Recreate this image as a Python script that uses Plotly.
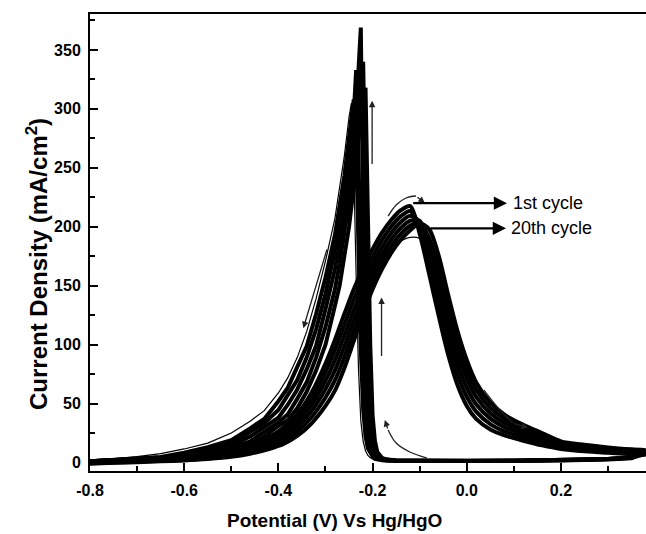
import plotly.graph_objects as go

# ---------------- data ----------------
# forward (anodic) sweep potentials, V vs Hg/HgO
E_fwd = [-0.80, -0.75, -0.70, -0.65, -0.60, -0.55, -0.50,
         -0.46, -0.42, -0.39, -0.36, -0.33, -0.30,
         -0.28, -0.26, -0.24, -0.22, -0.20, -0.18, -0.16, -0.14, -0.12, -0.10,
         -0.08, -0.06, -0.04, -0.02, 0.00, 0.02,
         0.05, 0.08, 0.12, 0.16, 0.20, 0.25, 0.30, 0.35, 0.38]
# reverse (cathodic) sweep potentials
E_rev = [0.38, 0.35, 0.30, 0.25, 0.20, 0.10, 0.00, -0.10,
         -0.15, -0.17, -0.18,
         -0.19, -0.195, -0.20, -0.205, -0.21, -0.215, -0.22, -0.225, -0.23, -0.235, -0.24, -0.245, -0.25,
         -0.26, -0.27, -0.28,
         -0.30, -0.32, -0.34, -0.36, -0.38, -0.40,
         -0.43, -0.46, -0.50, -0.55, -0.60, -0.65, -0.70, -0.75, -0.80]

# current density (mA/cm2), forward sweeps of the 20-cycle band (left/high -> right/low)
fwd_a = [0.5, 1.2, 2, 2.8, 3.8, 6, 10, 14.5, 21.5, 29.5, 41, 59, 84,
         104, 126, 147, 165, 181, 195, 206, 214, 217.5, 194,
         160, 125, 92, 66, 48, 37, 28, 23, 18.5, 14.5, 11.5, 9.5, 8.2, 7.1, 6.5]
fwd_b = [0.2, 0.9, 1.7, 2.4, 3.4, 5.4, 9.0, 13.1, 19.5, 26.7, 37.3, 53.8, 76.8,
         95.4, 116.8, 138.2, 157.2, 174.2, 188.8, 200.4, 209, 213.4, 200,
         167.6, 135.2, 102.2, 75.2, 55.8, 43.2, 32.6, 26.5, 21.2, 16.6, 12.8, 10.6, 9.1, 7.9, 7.3]
fwd_c = [-0.1, 0.6, 1.3, 2.1, 3.0, 4.8, 7.9, 11.7, 17.5, 23.9, 33.6, 48.6, 69.6,
         86.8, 107.6, 129.4, 149.4, 167.4, 182.6, 194.8, 204, 209.3, 204,
         175.2, 145.4, 112.4, 84.4, 63.6, 49.4, 37.2, 30.0, 23.9, 18.7, 14.1, 11.7, 10.0, 8.7, 8.1]
fwd_d = [-0.4, 0.3, 1.0, 1.7, 2.6, 4.2, 6.9, 10.3, 15.5, 21.1, 29.9, 43.4, 62.4,
         78.2, 98.4, 120.6, 141.6, 160.6, 176.4, 189.2, 199, 205.2, 205,
         182.8, 155.6, 122.6, 93.6, 71.4, 55.6, 41.8, 33.5, 26.6, 20.8, 15.4, 12.8, 11.0, 9.6, 8.9]
fwd_e = [-0.7, 0.0, 0.6, 1.4, 2.2, 3.6, 5.8, 8.9, 13.5, 18.3, 26.2, 38.2, 55.2,
         69.6, 89.2, 111.8, 133.8, 153.8, 170.2, 183.6, 194, 201.1, 204,
         190.4, 165.8, 132.8, 102.8, 79.2, 61.8, 46.4, 37.0, 29.3, 22.9, 16.7, 13.9, 11.9, 10.4, 9.7]
fwd_f = [-1, -0.3, 0.3, 1, 1.8, 3, 4.8, 7.5, 11.5, 15.5, 22.5, 33, 48,
         61, 80, 103, 126, 147, 164, 178, 189, 197, 203,
         198, 176, 143, 112, 87, 68, 51, 40.5, 32, 25, 18, 15, 12.8, 11.2, 10.5]
# odd single sweep that sits below the broad peak
fwd_odd = [-0.1, 0.6, 1.3, 2.1, 3.0, 4.8, 7.9, 11.7, 17.5, 23.9, 33.6, 48.6, 69.6,
           86.8, 107.6, 129.4, 146, 162, 174, 183, 188, 191, 190,
           181, 164, 137, 110, 85, 66, 47, 36, 28, 22, 17, 13.5, 11, 9.3, 8.5]

# reverse sweeps
rev_b = [7.3, 4, 3, 2.5, 2, 1.6, 1.3, 1.2, 1.3, 1.6, 2,
         2.6, 3, 5, 8, 12, 22, 45, 95, 180, 270, 308, 294, 276,
         243, 217, 193, 157, 126, 98.5, 80, 63.5, 52,
         37, 29, 19, 13, 8.4, 4.7, 3.5, 2.2, 1]
rev_c = [8.1, 4.5, 3, 2.5, 2, 1.6, 1.3, 1.2, 1.4, 2, 2.5,
         3, 4, 7, 13, 25, 50, 100, 175, 280, 333, 295, 276, 257,
         227, 199, 180, 143, 113, 89, 70, 57, 44.5,
         33.5, 25.7, 16, 11.3, 6.5, 4.3, 3.2, 2.1, 1]
rev_d = [8.9, 3.5, 2.5, 2, 1.8, 1.4, 1.2, 1.1, 1.5, 2.3, 3,
         4, 6, 10, 20, 45, 100, 200, 369, 325, 297, 276, 255, 239,
         209, 186, 164, 130, 99, 79, 62, 49, 38,
         30, 22, 14.5, 9.4, 4.9, 3.9, 2.9, 1.9, 1]
rev_e = [9.7, 4, 3, 2.3, 2, 1.5, 1.3, 1.2, 1.6, 2.6, 3,
         6, 10, 20, 45, 110, 230, 340, 319, 298, 276, 253, 236, 221,
         192, 169, 147, 115, 89, 68, 54, 41, 34,
         26, 18, 12.7, 7.4, 4.5, 3.6, 2.8, 1.9, 1]
rev_f = [10.5, 4.5, 3, 2.5, 2, 1.6, 1.3, 1.3, 2, 2.5, 4,
         9, 18, 40, 100, 210, 318, 309, 300, 275, 250, 233, 217, 200,
         175, 150, 133, 100, 78, 60, 46, 36, 31,
         22, 15.4, 10.8, 6.5, 4.2, 3.4, 2.6, 1.8, 1]
rev_odd = [8.5, 4.5, 3.3, 2.7, 2.3, 1.8, 1.5, 1.3, 1.3, 1.5, 1.7,
           2.1, 2.5, 3, 4, 6, 10, 18, 35, 80, 160, 250, 305, 293,
           260, 232, 207, 171, 139, 111, 89, 72, 59,
           44, 35, 25, 16.5, 11.5, 7.5, 5, 3, 1.5]

# axis ticks
x_ticks = [-0.8, -0.6, -0.4, -0.2, 0.0, 0.2]
x_ticktext = ["-0.8", "-0.6", "-0.4", "-0.2", "0.0", "0.2"]
x_minor = [-0.7, -0.5, -0.3, -0.1, 0.1, 0.3]
y_ticks = [0, 50, 100, 150, 200, 250, 300, 350]
y_minor = [25, 75, 125, 175, 225, 275, 325, 375]

# scan-direction arrows (data coordinates)
arrow_up1 = ([-0.201, -0.201], [252, 307])
arrow_up2 = ([-0.181, -0.181], [89, 140])
arrow_down = ([-0.296, -0.347], [182, 114])
arc_top = ([-0.167, -0.150, -0.129, -0.108, -0.089], [209, 218.5, 224.4, 226.1, 220.2])
arc_bottom = ([-0.0845, -0.121, -0.150, -0.167, -0.174], [3.8, 8.9, 16.5, 27.6, 36.1])
arc_right = ([0.0365, 0.0705, 0.098, 0.130], [61.5, 44.5, 33.5, 29.3])

# cycle labels
label_text = ["1st cycle", "20th cycle"]
label_tail_x = [-0.117, -0.080]
label_head_x = [0.0854, 0.0832]
label_y = [220, 198.7]
label_text_x = [0.094, 0.090]

FONT = "Liberation Sans, Arial, sans-serif"
BAND_W = 4.0
THIN_W = 1.2

fig = go.Figure()

forward = [(fwd_a, BAND_W), (fwd_b, BAND_W), (fwd_c, BAND_W), (fwd_d, BAND_W),
           (fwd_e, BAND_W), (fwd_f, BAND_W), (fwd_odd, THIN_W)]
reverse = [(rev_b, BAND_W), (rev_c, BAND_W), (rev_d, BAND_W), (rev_e, BAND_W),
           (rev_f, BAND_W), (rev_odd, THIN_W)]
for ys, w in forward:
    fig.add_trace(go.Scatter(x=E_fwd, y=ys, mode="lines",
                             line=dict(color="black", width=w, shape="spline", smoothing=0.8),
                             showlegend=False, hoverinfo="skip"))
for ys, w in reverse:
    fig.add_trace(go.Scatter(x=E_rev, y=ys, mode="lines",
                             line=dict(color="black", width=w),
                             showlegend=False, hoverinfo="skip"))

ARC_COLOR = "#222"
for xs, ys in (arc_top, arc_bottom, arc_right):
    fig.add_trace(go.Scatter(x=xs[:-1], y=ys[:-1], mode="lines",
                             line=dict(color=ARC_COLOR, width=1.3, shape="spline"),
                             showlegend=False, hoverinfo="skip"))

annotations = []
def arrow(x0, y0, x1, y1, width=1.3, size=1.0, color=ARC_COLOR):
    annotations.append(dict(x=x1, y=y1, ax=x0, ay=y0, xref="x", yref="y", axref="x", ayref="y",
                            showarrow=True, arrowhead=2, arrowsize=size, arrowwidth=width,
                            arrowcolor=color, text=""))

for xs, ys in (arrow_up1, arrow_up2, arrow_down):
    arrow(xs[0], ys[0], xs[1], ys[1])
for xs, ys in (arc_top, arc_bottom, arc_right):
    arrow(xs[-2], ys[-2], xs[-1], ys[-1])

for t, tx, hx, yy, lx in zip(label_text, label_tail_x, label_head_x, label_y, label_text_x):
    arrow(tx, yy, hx, yy, width=2.2, size=1.2, color="black")
    annotations.append(dict(x=lx, y=yy, xref="x", yref="y", text=t, showarrow=False,
                            xanchor="left", yanchor="middle",
                            font=dict(family=FONT, size=18, color="black")))

annotations.append(dict(x=0.4406, y=-0.1094, xref="paper", yref="paper",
                        text="Potential (V) Vs Hg/HgO", showarrow=False,
                        xanchor="center", yanchor="middle",
                        font=dict(family=FONT, size=19, color="black", weight="bold")))
annotations.append(dict(x=-0.0953, y=0.453, xref="paper", yref="paper",
                        text="Current Density (mA/cm<sup>2</sup>)", showarrow=False,
                        textangle=-90, xanchor="center", yanchor="middle",
                        font=dict(family=FONT, size=24, color="black", weight="bold")))

axis_common = dict(showline=True, linecolor="black", linewidth=2, ticks="inside",
                   ticklen=8, tickwidth=1.5, tickcolor="black", showgrid=False,
                   zeroline=False,
                   tickfont=dict(family=FONT, size=16, color="black", weight="bold"))

fig.update_layout(
    width=646, height=534,
    margin=dict(l=90, r=0, t=14, b=63),
    paper_bgcolor="white", plot_bgcolor="white",
    annotations=annotations,
    xaxis=dict(range=[-0.8, 0.3805], tickmode="array", tickvals=x_ticks, ticktext=x_ticktext,
               mirror=True, ticklabelstandoff=4,
               minor=dict(tickmode="array", tickvals=x_minor, ticks="inside", ticklen=5,
                          tickwidth=1.5, tickcolor="black", showgrid=False),
               **axis_common),
    yaxis=dict(range=[-7.2, 380.5], tickmode="array", tickvals=y_ticks,
               ticklabelstandoff=4,
               minor=dict(tickmode="array", tickvals=y_minor, ticks="inside", ticklen=5,
                          tickwidth=1.5, tickcolor="black", showgrid=False),
               **axis_common),
)

fig.write_html("out.html")
